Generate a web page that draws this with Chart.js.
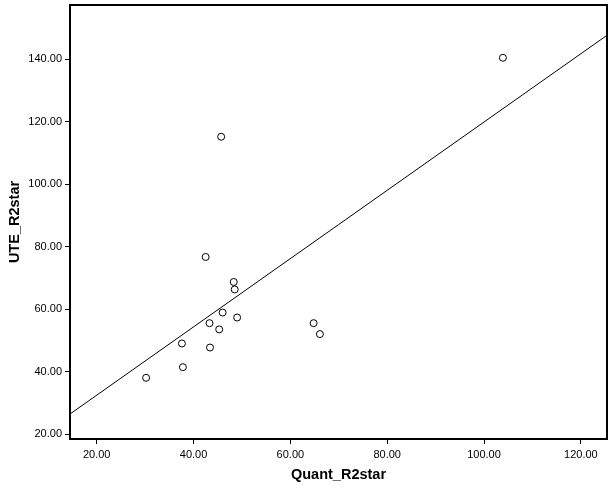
<!DOCTYPE html>
<html>
<head>
<meta charset="utf-8">
<script src="https://cdn.jsdelivr.net/npm/chart.js@4/dist/chart.umd.min.js"></script>
<style>
  body { margin: 0; background: #fff; }
  #wrap { width: 615px; height: 489px; }
</style>
</head>
<body>
<div id="wrap"><canvas id="scatter" width="615" height="489"></canvas></div>
<script>
// valores
const quantR2star = [30.2, 37.8, 37.6, 43.4, 43.3, 45.3, 46.0, 49.0, 48.3, 48.5, 42.5, 64.8, 66.1, 45.7, 103.9];
const uteR2star   = [38.0, 41.4, 49.0, 47.7, 55.5, 53.5, 58.9, 57.3, 68.7, 66.3, 76.7, 55.5, 52.0, 115.2, 140.5];

// linha de ajuste (extremos nas bordas do gráfico)
const ajusteX = [14.48, 125.4];
const ajusteY = [26.4, 147.7];

const ticksX = [20, 40, 60, 80, 100, 120];
const ticksY = [20, 40, 60, 80, 100, 120, 140];

const limitesX = [14.48, 125.4];
const limitesY = [18.4, 157.4];

const fonte = "'Liberation Sans', Arial, sans-serif";

const pontos = quantR2star.map((x, i) => ({ x: x, y: uteR2star[i] }));
const linha = ajusteX.map((x, i) => ({ x: x, y: ajusteY[i] }));

const ctx = document.getElementById('scatter').getContext('2d');
new Chart(ctx, {
  type: 'scatter',
  data: {
    datasets: [
      {
        data: pontos,
        pointRadius: 3.5,
        pointHoverRadius: 3.5,
        borderWidth: 1,
        borderColor: '#000',
        backgroundColor: '#fff'
      },
      {
        data: linha,
        showLine: true,
        pointRadius: 0,
        borderColor: '#000',
        borderWidth: 1,
        fill: false
      }
    ]
  },
  options: {
    responsive: false,
    animation: false,
    layout: { padding: 0 },
    plugins: {
      legend: { display: false },
      tooltip: { enabled: false }
    },
    scales: {
      x: {
        type: 'linear',
        position: 'bottom',
        min: limitesX[0],
        max: limitesX[1],
        afterBuildTicks: s => { s.ticks = ticksX.map(v => ({ value: v })); },
        afterFit: s => { s.height = 50; s.paddingLeft = 0; s.paddingRight = 0; },
        ticks: {
          color: '#000',
          font: { family: fonte, size: 11 },
          padding: 4,
          maxRotation: 0,
          callback: v => v.toFixed(2)
        },
        grid: { drawOnChartArea: false, drawTicks: true, tickLength: 5, tickColor: '#000', tickWidth: 1 },
        border: { color: '#000', width: 2 },
        title: {
          display: true,
          text: 'Quant_R2star',
          color: '#000',
          font: { family: fonte, size: 14.5, weight: 'bold' },
          padding: { top: 0, bottom: 5 }
        }
      },
      y: {
        type: 'linear',
        position: 'left',
        min: limitesY[0],
        max: limitesY[1],
        afterBuildTicks: s => { s.ticks = ticksY.map(v => ({ value: v })); },
        afterFit: s => { s.width = 70; s.paddingTop = 0; s.paddingBottom = 0; },
        ticks: {
          color: '#000',
          font: { family: fonte, size: 11 },
          padding: 3,
          callback: v => v.toFixed(2)
        },
        grid: { drawOnChartArea: false, drawTicks: true, tickLength: 5, tickColor: '#000', tickWidth: 1 },
        border: { color: '#000', width: 2 },
        title: {
          display: true,
          text: 'UTE_R2star',
          color: '#000',
          font: { family: fonte, size: 14.5, weight: 'bold' },
          padding: { top: 6, bottom: 0 }
        }
      },
      x2: {
        type: 'linear',
        position: 'top',
        afterFit: s => { s.height = 5; s.paddingLeft = 0; s.paddingRight = 0; },
        ticks: { display: false },
        grid: { drawOnChartArea: false, drawTicks: false },
        border: { color: '#000', width: 2 }
      },
      y2: {
        type: 'linear',
        position: 'right',
        afterFit: s => { s.width = 8; s.paddingTop = 0; s.paddingBottom = 0; },
        ticks: { display: false },
        grid: { drawOnChartArea: false, drawTicks: false },
        border: { color: '#000', width: 2 }
      }
    }
  }
});
</script>
</body>
</html>
